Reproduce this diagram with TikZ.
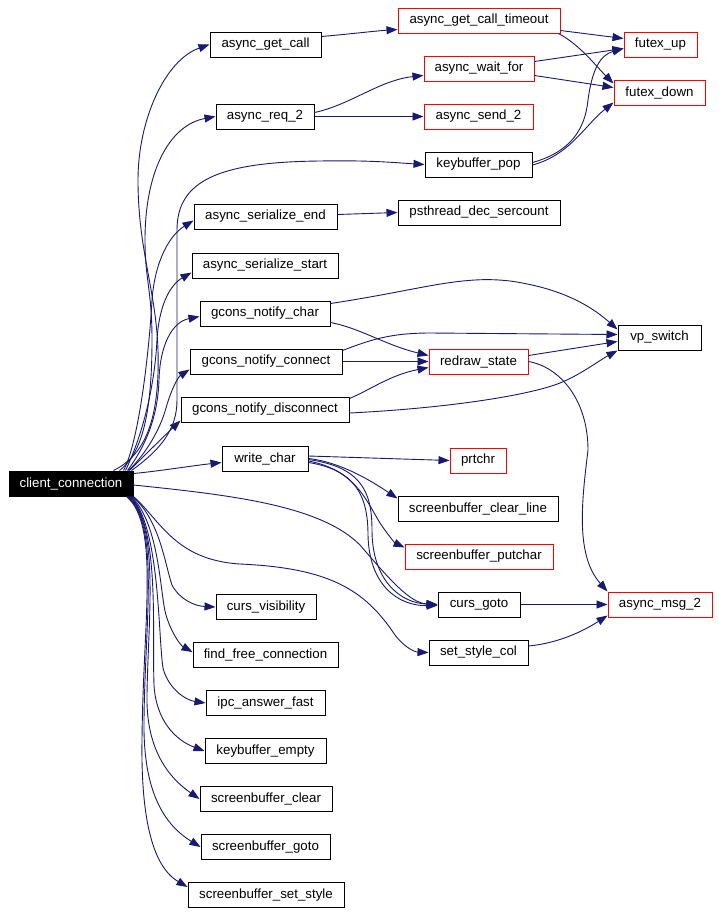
\documentclass[tikz,border=0pt]{standalone}
\usepackage{fontspec}
\setmainfont{Liberation Sans}
\usetikzlibrary{arrows.meta}
\definecolor{edgec}{HTML}{191970}
\definecolor{redc}{HTML}{FF0000}
\begin{document}
\begin{tikzpicture}[x=1pt,y=-1pt,
  box/.style={draw=black, line width=1pt, minimum height=25pt, inner sep=0pt, font=\fontsize{13.3}{16}\selectfont, fill=white},
  redbox/.style={box, draw=redc},
  rootbox/.style={box, fill=black, text=white},
  edge/.style={draw=edgec, line width=0.9pt, -{Triangle[length=11pt,width=8pt]}},
]
\useasboundingbox[fill=white] (0,0) rectangle (719,914);

% nodes
\node[rootbox, minimum width=124pt] (cc) at (71,483.5) {client\_connection};
\node[box, minimum width=111pt] (agc) at (265.5,44.5) {async\_get\_call};
\node[redbox, minimum width=162pt] (agct) at (479,20.5) {async\_get\_call\_timeout};
\node[redbox, minimum width=73pt] (fu) at (660.5,44.5) {futex\_up};
\node[redbox, minimum width=91pt] (fd) at (659.5,92.5) {futex\_down};
\node[redbox, minimum width=110pt] (awf) at (479,68.5) {async\_wait\_for};
\node[box, minimum width=98pt] (ar2) at (265,116.5) {async\_req\_2};
\node[redbox, minimum width=109pt] (as2) at (478.5,116.5) {async\_send\_2};
\node[box, minimum width=107pt] (kbp) at (478.5,164.5) {keybuffer\_pop};
\node[box, minimum width=143pt] (ase) at (265.5,216.5) {async\_serialize\_end};
\node[box, minimum width=162pt] (psd) at (479,212.5) {psthread\_dec\_sercount};
\node[box, minimum width=146pt] (ass) at (265,265.5) {async\_serialize\_start};
\node[box, minimum width=130pt] (gnc) at (265,313.5) {gcons\_notify\_char};
\node[box, minimum width=83pt] (vps) at (659.5,337.5) {vp\_switch};
\node[box, minimum width=152pt] (gncn) at (266,361.5) {gcons\_notify\_connect};
\node[redbox, minimum width=99pt] (rds) at (478.5,361.5) {redraw\_state};
\node[box, minimum width=168pt] (gnd) at (265,409.5) {gcons\_notify\_disconnect};
\node[box, minimum width=86pt] (wc) at (265,458.5) {write\_char};
\node[redbox, minimum width=56pt] (pc) at (478,460.5) {prtchr};
\node[box, minimum width=160pt] (scl) at (478,508.5) {screenbuffer\_clear\_line};
\node[redbox, minimum width=148pt] (spc) at (479,556.5) {screenbuffer\_putchar};
\node[box, minimum width=82pt] (cg) at (479,604.5) {curs\_goto};
\node[redbox, minimum width=104pt] (am2) at (660,604.5) {async\_msg\_2};
\node[box, minimum width=99pt] (ssc) at (478.5,652.5) {set\_style\_col};
\node[box, minimum width=100pt] (cv) at (266,607) {curs\_visibility};
\node[box, minimum width=145pt] (ffc) at (265.5,655) {find\_free\_connection};
\node[box, minimum width=119pt] (iaf) at (265.5,703) {ipc\_answer\_fast};
\node[box, minimum width=121pt] (kbe) at (265.5,751) {keybuffer\_empty};
\node[box, minimum width=132pt] (sbc) at (266,799) {screenbuffer\_clear};
\node[box, minimum width=129pt] (sbg) at (265.5,847) {screenbuffer\_goto};
\node[box, minimum width=156pt] (sbs) at (266,895) {screenbuffer\_set\_style};

% edges from client_connection (upwards)
\draw[edge] ([xshift=-20pt]cc.north east) .. controls (145,455) and (160,420) .. (158,350) .. controls (156,290) and (138,250) .. (138,180) .. controls (138,120) and (165,60) .. (agc.west);
\draw[edge] ([xshift=-14pt]cc.north east) .. controls (140,455) and (152,420) .. (152,340) .. controls (152,290) and (145,280) .. (145,240) .. controls (145,170) and (170,125) .. (ar2.west);
\draw[edge] ([xshift=-2pt]cc.north east) .. controls (160,450) and (177,430) .. (177,400) -- (177,230) .. controls (177,180) and (220,162) .. (320,161) .. controls (370,160) and (400,163) .. (kbp.west);
\draw[edge] ([xshift=-10pt]cc.north east) .. controls (140,440) and (150,340) .. (152,300) .. controls (155,260) and (170,235) .. ([yshift=-4pt]ase.west);
\draw[edge] ([xshift=-8pt]cc.north east) .. controls (145,430) and (155,380) .. (157,340) .. controls (159,305) and (170,285) .. ([yshift=-7pt]ass.west);
\draw[edge] ([xshift=-6pt]cc.north east) .. controls (150,440) and (158,410) .. (159,380) .. controls (160,345) and (172,322) .. ([yshift=-3pt]gnc.west);
\draw[edge] ([xshift=-5pt]cc.north east) .. controls (145,455) and (160,430) .. (166,408) .. controls (171,390) and (178,377) .. ([yshift=-8pt]gncn.west);
\draw[edge] ([xshift=-4pt]cc.north east) .. controls (140,460) and (160,440) .. ([yshift=-11pt]gnd.west);
\draw[edge] ([yshift=10pt]cc.east) .. controls (160,471) and (190,466) .. ([yshift=-4pt]wc.west);
% edges from client_connection (rightwards / downwards)
\draw[edge] ([yshift=-1.5pt]cc.east) .. controls (230,495) and (320,505) .. (360,545) .. controls (390,580) and (410,603) .. (cg.west);
\draw[edge] (cc.south east) .. controls (160,520) and (175,560) .. (240,564) .. controls (330,568) and (365,590) .. (395,635) .. controls (405,648) and (415,652) .. (ssc.west);
\draw[edge] ([xshift=-1pt]cc.south east) .. controls (160,520) and (165,565) .. (172,585) .. controls (180,600) and (195,606) .. (cv.west);
\draw[edge] ([xshift=-2pt]cc.south east) .. controls (160,525) and (160,595) .. (166,615) .. controls (171,632) and (180,645) .. ([yshift=3pt]ffc.west);
\draw[edge] ([xshift=-3pt]cc.south east) .. controls (160,525) and (158,635) .. (163,668) .. controls (168,688) and (185,700) .. (iaf.west);
\draw[edge] ([xshift=-4pt]cc.south east) .. controls (160,525) and (152,630) .. (154,685) .. controls (156,720) and (175,740) .. (kbe.west);
\draw[edge] ([xshift=-5pt]cc.south east) .. controls (160,525) and (148,620) .. (147,695) .. controls (146,745) and (165,775) .. (sbc.west);
\draw[edge] ([xshift=-6pt]cc.south east) .. controls (160,525) and (145,620) .. (144,720) .. controls (143,785) and (160,822) .. (sbg.west);
\draw[edge] ([xshift=-7pt]cc.south east) .. controls (160,525) and (143,620) .. (142,740) .. controls (141,810) and (150,865) .. ([yshift=8pt]sbs.west);

% right-side edges
\draw[edge] ([yshift=8pt]agc.east) .. controls (350,34) and (375,31) .. ([yshift=-9pt]agct.west);
\draw[edge] ([yshift=-10pt]agct.east) -- ([yshift=6pt]fu.west);
\draw[edge] ([xshift=-2pt]agct.south east) .. controls (580,45) and (595,65) .. ([yshift=9pt]fd.west);
\draw[edge] ([yshift=4pt]ar2.east) .. controls (350,105) and (380,80) .. ([yshift=-7pt]awf.west);
\draw[edge] (ar2.east) -- (as2.west);
\draw[edge] ([yshift=7pt]awf.east) -- ([yshift=-4pt]fu.west);
\draw[edge] ([yshift=-7pt]awf.east) -- ([yshift=5pt]fd.west);
\draw[edge] ([yshift=2pt]kbp.east) .. controls (570,152) and (585,130) .. (588,100) .. controls (592,70) and (600,55) .. ([yshift=-4pt]fu.west);
\draw[edge] ([yshift=-0.5pt]kbp.east) .. controls (570,155) and (585,125) .. ([yshift=-10pt]fd.west);
\draw[edge] ([yshift=2pt]ase.east) -- (psd.west);
\draw[edge] ([yshift=10pt]gnc.east) .. controls (420,290) and (460,275) .. (510,281) .. controls (560,288) and (590,305) .. ([yshift=8pt]vps.west);
\draw[edge] ([yshift=-9pt]gnc.east) .. controls (360,328) and (385,345) .. ([yshift=6pt]rds.west);
\draw[edge] ([yshift=11pt]gncn.east) .. controls (370,340) and (390,333) .. (430,333) -- ([yshift=3pt]vps.west);
\draw[edge] (gncn.east) -- (rds.west);
\draw[edge] ([yshift=-3.5pt]gnd.east) .. controls (450,408) and (530,395) .. (560,383) .. controls (580,375) and (600,360) .. (vps.south west);
\draw[edge] ([yshift=11pt]gnd.east) .. controls (370,390) and (390,375) .. ([yshift=-6pt]rds.west);
\draw[edge] ([yshift=6pt]rds.east) -- ([yshift=-4pt]vps.west);
\draw[edge] (rds.east) .. controls (560,367) and (588,400) .. (588,450) .. controls (582,500) and (575,555) .. (am2.north west);
\draw[edge] ([yshift=2.5pt]wc.east) -- (pc.west);
\draw[edge] (wc.east) .. controls (340,462) and (370,480) .. ([yshift=10pt]scl.west);
\draw[edge] ([yshift=-2.5pt]wc.east) .. controls (355,470) and (366,500) .. (380,523) .. controls (388,535) and (395,543) .. ([yshift=9pt]spc.west);
\draw[edge] ([yshift=-1pt]wc.east) .. controls (360,467) and (372,490) .. (372,530) .. controls (372,580) and (400,603) .. (cg.west);
\draw[edge] ([yshift=-4pt]wc.east) .. controls (355,470) and (368,495) .. (368,535) .. controls (369,585) and (398,606) .. ([yshift=-1pt]cg.west);
\draw[edge] (cg.east) -- (am2.west);
\draw[edge] ([yshift=6.5pt]ssc.east) .. controls (560,643) and (585,630) .. ([yshift=-11pt]am2.west);
\end{tikzpicture}
\end{document}
